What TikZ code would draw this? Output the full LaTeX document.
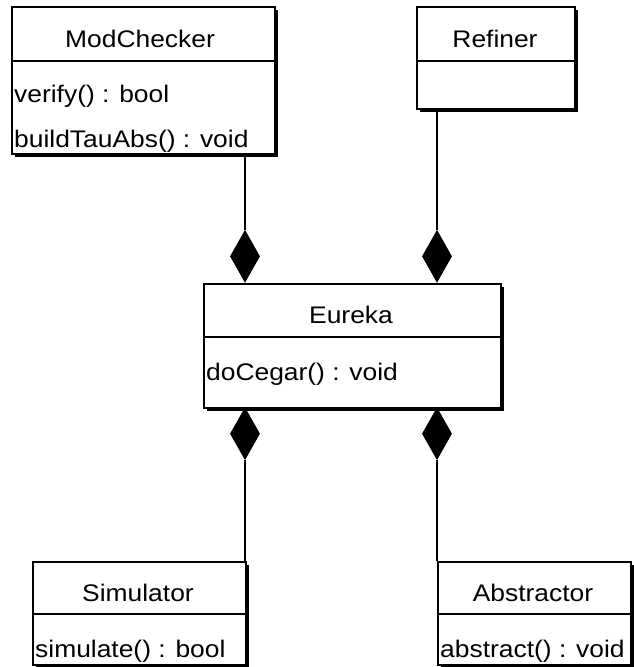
\documentclass[tikz,border=0pt]{standalone}
\usepackage{fontspec}
\setmainfont{Liberation Sans}[FakeStretch=1.1]
\usetikzlibrary{shapes.geometric,shadows}
\begin{document}
\begin{tikzpicture}[x=1pt,y=-1pt,
  cls/.style={draw=black, fill=white, line width=1.8pt, rectangle, inner sep=0pt, anchor=north west,
    drop shadow={shadow xshift=3pt, shadow yshift=-3pt, fill=black, opacity=1}},
  divline/.style={line width=1.8pt},
  conn/.style={line width=1.8pt},
  comp/.style={diamond, fill=black, draw=none, inner sep=0pt, minimum width=30pt, minimum height=53pt},
  title/.style={anchor=base, inner sep=0pt, font=\fontsize{24}{29}\selectfont},
  op/.style={anchor=base west, inner sep=0pt, font=\fontsize{24}{29}\selectfont}]
\useasboundingbox (0,0) rectangle (633,667);
% classes
\node[cls, minimum width=263pt, minimum height=147pt] (mc) at (11,6) {};
\node[cls, minimum width=158pt, minimum height=102pt] (rf) at (416,6) {};
\node[cls, minimum width=297pt, minimum height=124pt] (eu) at (203,283) {};
\node[cls, minimum width=213pt, minimum height=103pt] (sim) at (32,561) {};
\node[cls, minimum width=193pt, minimum height=103pt] (abs) at (437,561) {};
% dividers
\draw[divline] (mc.west |- 0,61) -- (mc.east |- 0,61);
\draw[divline] (rf.west |- 0,61) -- (rf.east |- 0,61);
\draw[divline] (eu.west |- 0,337) -- (eu.east |- 0,337);
\draw[divline] (sim.west |- 0,614) -- (sim.east |- 0,614);
\draw[divline] (abs.west |- 0,614) -- (abs.east |- 0,614);
% texts
\node[title] (mct) at (140,47) {ModChecker};
\node[op] (mco1) at (14,102) {verify() : bool};
\node[op] (mco2) at (14,147) {buildTauAbs() : void};
\node[title] (rft) at (495,47) {Refiner};
\node[title] (eut) at (351,323) {Eureka};
\node[op] (euo1) at (206,380) {doCegar() : void};
\node[title] (simt) at (138,601) {Simulator};
\node[op] (simo1) at (35,657) {simulate() : bool};
\node[title] (abst) at (533,601) {Abstractor};
\node[op] (abso1) at (440,657) {abstract() : void};
% composition diamonds
\node[comp, anchor=south] (d1) at (245,283) {};
\node[comp, anchor=south] (d2) at (437,283) {};
\node[comp, anchor=north] (d3) at (245,407) {};
\node[comp, anchor=north] (d4) at (437,407) {};
% connectors
\draw[conn] (d1.north) -- (d1.north |- mc.south);
\draw[conn] (d2.north) -- (d2.north |- rf.south);
\draw[conn] (d3.south) -- (d3.south |- sim.north);
\draw[conn] (d4.south) -- (d4.south |- abs.north);
\end{tikzpicture}
\end{document}
